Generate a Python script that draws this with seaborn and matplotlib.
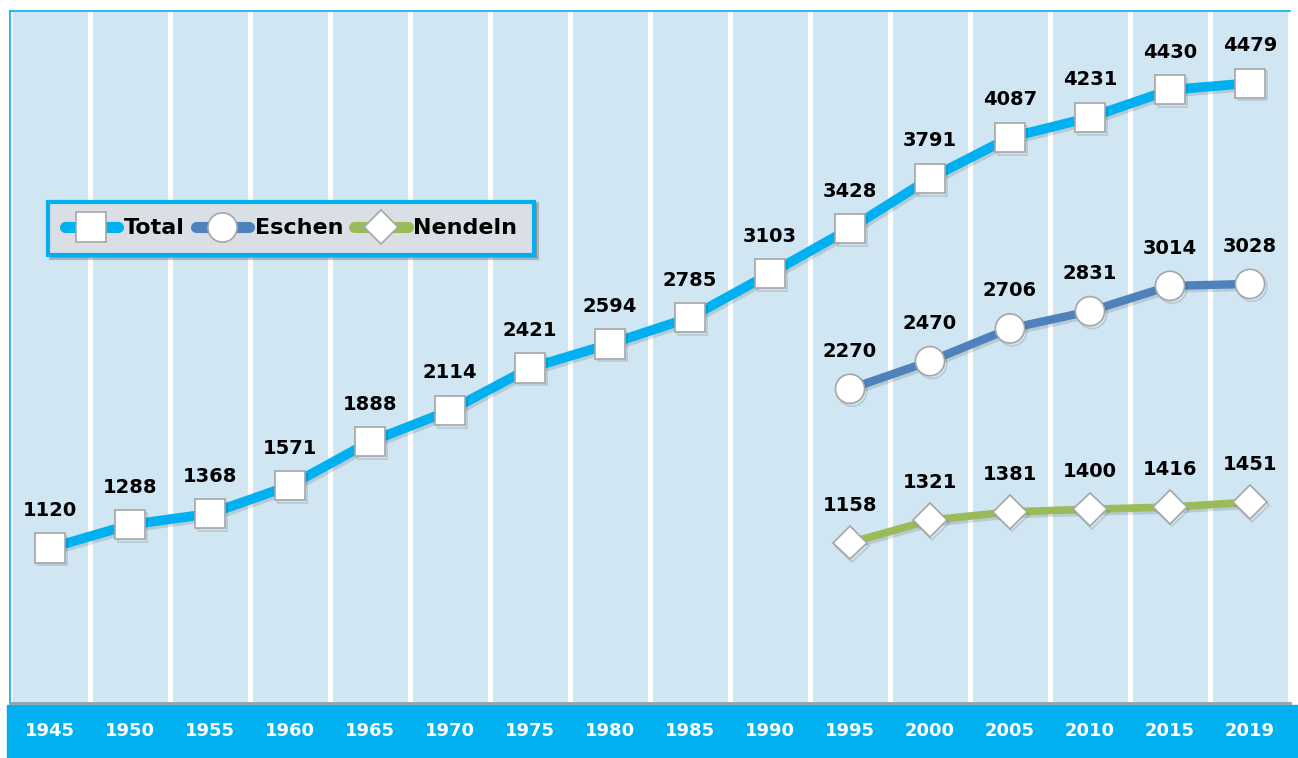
import numpy as np
import pandas as pd
import matplotlib
matplotlib.use("Agg")
import matplotlib.pyplot as plt
import matplotlib.patheffects as pe
from matplotlib.patches import Rectangle
import seaborn as sns

years = ["1945", "1950", "1955", "1960", "1965", "1970", "1975", "1980",
         "1985", "1990", "1995", "2000", "2005", "2010", "2015", "2019"]
total = [1120, 1288, 1368, 1571, 1888, 2114, 2421, 2594,
         2785, 3103, 3428, 3791, 4087, 4231, 4430, 4479]
eschen_years = ["1995", "2000", "2005", "2010", "2015", "2019"]
eschen = [2270, 2470, 2706, 2831, 3014, 3028]
nendeln = [1158, 1321, 1381, 1400, 1416, 1451]

CYAN = "#00B0F0"
BLUE = "#4F81BD"
GREEN = "#9BBB59"
BG = "#D0E6F2"

pos = {y: i for i, y in enumerate(years)}
df = pd.concat([
    pd.DataFrame({"year": years, "value": total, "series": "Total"}),
    pd.DataFrame({"year": eschen_years, "value": eschen, "series": "Eschen"}),
    pd.DataFrame({"year": eschen_years, "value": nendeln, "series": "Nendeln"}),
])
df["x"] = df["year"].map(pos)

sns.set_style("white")
plt.rcParams["font.family"] = ["DejaVu Sans"]
plt.rcParams["text.color"] = "black"

fig = plt.figure(figsize=(12.98, 7.58), dpi=100)
ax = fig.add_axes([10 / 1298, 55 / 758, 1280 / 1298, 692 / 758])
ax.set_facecolor(BG)

# bottom band
fig.patches.append(Rectangle((7 / 1298, 0), 1 - 7 / 1298, 53 / 758,
                             transform=fig.transFigure, color=CYAN, zorder=-5))

styles = {
    "Total": dict(color=CYAN, marker="s", markersize=21, lw=7),
    "Eschen": dict(color=BLUE, marker="o", markersize=21, lw=6),
    "Nendeln": dict(color=GREEN, marker="D", markersize=17, lw=5.5),
}
shadow = [pe.SimpleLineShadow(offset=(1.5, -2), alpha=0.12, shadow_color="black"),
          pe.Normal()]

for name, st in styles.items():
    sub = df[df["series"] == name]
    sns.lineplot(data=sub, x="x", y="value", ax=ax, label=name,
                 color=st["color"], lw=st["lw"], marker=st["marker"],
                 markersize=st["markersize"], markerfacecolor="white",
                 markeredgecolor="#A6A6A6", markeredgewidth=1.2,
                 zorder=3, path_effects=shadow)
    for x, v in zip(sub["x"], sub["value"]):
        ax.annotate(f"{v}", (x, v), xytext=(0, 27), textcoords="offset points",
                    ha="center", va="center", fontsize=14, fontweight="bold",
                    color="black", zorder=4)

for b in np.arange(-0.5, 16, 1):
    ax.axvline(b, color="white", lw=3.6, zorder=1)

ax.set_xlim(-0.5, 15.5)
ax.set_ylim(0, 5000)
ax.set_xticks(range(len(years)))
ax.set_xticklabels(years)
ax.tick_params(axis="x", length=0, pad=14, labelsize=13, labelcolor="white")
for t in ax.get_xticklabels():
    t.set_fontweight("bold")
ax.set_yticks([])
ax.set_xlabel("")
ax.set_ylabel("")
ax.grid(False)

for side in ["top", "left"]:
    ax.spines[side].set_color(CYAN)
    ax.spines[side].set_linewidth(1.2)
ax.spines["right"].set_visible(False)
ax.spines["bottom"].set_color("#8FA3AE")
ax.spines["bottom"].set_linewidth(2)

leg = ax.legend(loc="center", bbox_to_anchor=(0.2195, 0.686), ncol=3,
                frameon=True, fancybox=False, shadow={"color": "#555555", "alpha": 0.35},
                handlelength=2.4, handletextpad=0.25, columnspacing=0.5,
                borderpad=0.75, labelcolor="black",
                prop={"weight": "bold", "size": 16})
frame = leg.get_frame()
frame.set_facecolor("#D9DFE4")
frame.set_edgecolor(CYAN)
frame.set_linewidth(3)
frame.set_alpha(1)
for h in leg.get_lines():
    h.set_linewidth(8)
    h.set_path_effects([])

fig.savefig("out.png", dpi=100)
